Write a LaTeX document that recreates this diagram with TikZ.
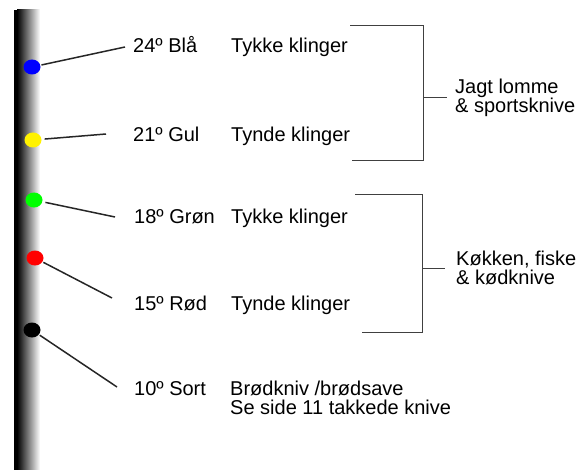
\documentclass[tikz,border=0pt]{standalone}
\usepackage{fontspec}
\setmainfont{Liberation Sans}
\usetikzlibrary{positioning,shapes.geometric}

\tikzset{
	dot/.style={ellipse, minimum width=17pt, minimum height=15pt, inner sep=0pt},
	lbl/.style={anchor=base west, inner sep=0pt, align=left, font=\fontsize{20}{18.5}\selectfont},
	grp/.style={anchor=west, inner sep=0pt, align=left, font=\fontsize{20}{18.5}\selectfont},
	pin/.style={line width=1.5pt, color=black!85, shorten <=1pt},
	brace/.style={line width=1pt, color=black!75},
}

\begin{document}
\begin{tikzpicture}[x=1pt, y=-1pt]
		%%%%% START %%%%%
		\useasboundingbox (0, 0) rectangle (577, 470);
		
		% stang
		\fill[black] (14, 10) rectangle (17, 470);
		\shade[left color=black, right color=white] (17, 10) rectangle (40, 470);
		
		% prikker
		\node[dot, fill=blue] (blaa) at (32, 67) {};
		\node[dot, fill=yellow] (gul) at (33, 140) {};
		\node[dot, fill=green] (groen) at (34, 200) {};
		\node[dot, fill=red] (roed) at (35, 258) {};
		\node[dot, fill=black] (sort) at (32, 330) {};
		
		\coordinate (blaaend) at (125, 47);
		\coordinate (gulend) at (106, 134);
		\coordinate (groenend) at (115, 217);
		\coordinate (roedend) at (112, 298);
		\coordinate (sortend) at (117, 387);
		
		\draw[pin] (blaa) -- (blaaend);
		\draw[pin, shorten <=3pt] (gul) -- (gulend);
		\draw[pin, shorten <=3pt] (groen) -- (groenend);
		\draw[pin] (roed) -- (roedend);
		\draw[pin] (sort) -- (sortend);
		
		% grader
		\node[lbl] (blaatxt) at (133, 53) {24º Blå};
		\node[lbl] (gultxt) at (133, 142) {21º Gul};
		\node[lbl] (groentxt) at (134, 223) {18º Grøn};
		\node[lbl] (roedtxt) at (134, 310) {15º Rød};
		\node[lbl] (sorttxt) at (134, 395) {10º Sort};
		
		% klinger
		\node[lbl] (blaakl) at (231, 53) {Tykke klinger};
		\node[lbl] (gulkl) at (231, 142) {Tynde klinger};
		\node[lbl] (groenkl) at (231, 223) {Tykke klinger};
		\node[lbl] (roedkl) at (231, 310) {Tynde klinger};
		\node[lbl] (sortkl) at (230, 414) {Brødkniv /brødsave\\Se side 11 takkede knive};
		
		% klammer
		\draw[brace] (350, 26) -- (423, 26) -- (423, 161) -- (352, 161);
		\draw[brace] (355, 195) -- (422, 195) -- (422, 332) -- (362, 332);
		\coordinate (jagtstart) at (423, 98);
		\coordinate (jagtend) at (447, 98);
		\coordinate (koekstart) at (422, 268);
		\coordinate (koekend) at (445, 268);
		\draw[brace] (jagtstart) -- (jagtend);
		\draw[brace] (koekstart) -- (koekend);
		
		\node[grp, right=8pt of jagtend] (jagt) {Jagt lomme\\\& sportsknive};
		\node[grp, right=11pt of koekend] (koek) {Køkken, fiske\\\& kødknive};
		
		%%%%% END %%%%%
	\end{tikzpicture}
\end{document}
